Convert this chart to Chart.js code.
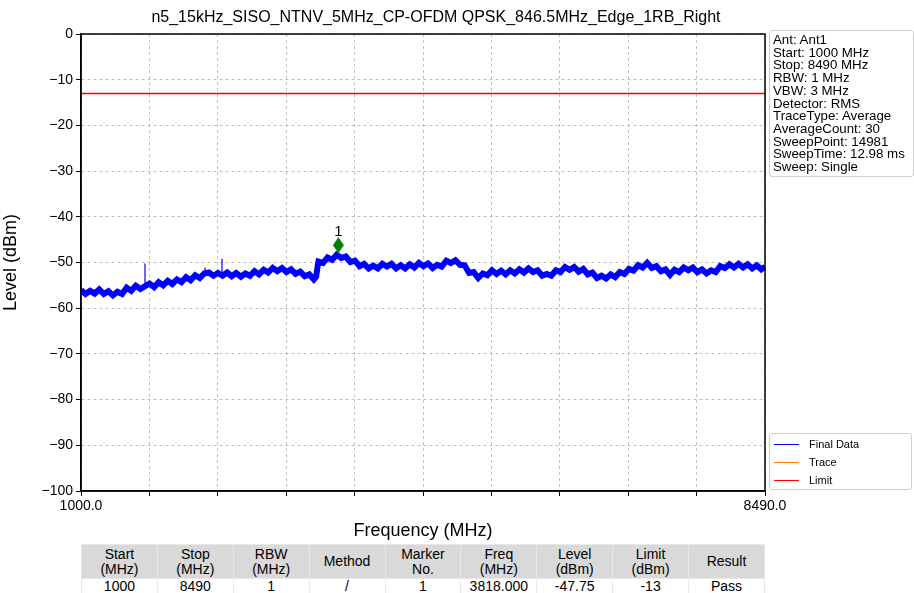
<!DOCTYPE html>
<html>
<head>
<meta charset="utf-8">
<script src="https://cdn.jsdelivr.net/npm/chart.js@4.4.1/dist/chart.umd.min.js"></script>
<style>
  body { margin: 0; background: #fff; font-family: "Liberation Sans", Arial, sans-serif; color: #000; }
  #wrap { position: relative; width: 914px; height: 593px; overflow: hidden; }
  #chart { position: absolute; left: 0; top: 0; }
  #title { position: absolute; top: 8px; left: 0; width: 872px; text-align: center; font-size: 16px; }
  #info { position: absolute; left: 769px; top: 30px; width: 137px; height: 141px; padding: 3px 3px 1px;
          border: 1px solid #cfcfcf; border-radius: 3px; font-size: 13.3px; line-height: 12.7px; white-space: nowrap; }
  #legend { position: absolute; left: 769px; top: 433px; width: 141px; height: 55px;
            border: 1px solid #cfcfcf; border-radius: 3px; font-size: 11px; }
  #legend div { height: 18px; line-height: 18px; position: relative; padding-left: 39px; }
  #legend div span { position: absolute; left: 4px; top: 9px; width: 25px; height: 0; border-top: 1.5px solid; }
  #legend div:first-child { margin-top: 1px; }
  table { position: absolute; left: 81px; top: 544px; width: 684px; border-collapse: collapse; table-layout: fixed;
          font-size: 14px; line-height: 15px; text-align: center; }
  th, td { border: 1px solid #e8e8e8; padding: 0; font-weight: normal; }
  th { background: #d9d9d9; height: 33px; }
  td { height: 14px; line-height: 14px; }
</style>
</head>
<body>
<div id="wrap">
  <canvas id="chart" width="914" height="542"></canvas>
  <div id="title"></div>
  <div id="info"></div>
  <div id="legend"></div>
  <table id="result"><thead><tr></tr></thead><tbody><tr></tr></tbody></table>
</div>
<script>
const chartTitle = "n5_15kHz_SISO_NTNV_5MHz_CP-OFDM QPSK_846.5MHz_Edge_1RB_Right"

// trace (MHz, dBm)
const freqMHz = [
  1000, 1050, 1100, 1150, 1200, 1250, 1300, 1350, 1400, 1450, 1500, 1550, 1600, 1650,
  1700, 1750, 1800, 1850, 1900, 1950, 2000, 2050, 2100, 2150, 2200, 2250, 2300,
  2350, 2400, 2450, 2500, 2550, 2600, 2650, 2700, 2750, 2800, 2850,
  2900, 2950, 3000, 3050, 3100, 3150, 3200, 3250, 3300, 3350, 3400, 3450, 3500, 3550, 3575,
  3590, 3600, 3650, 3700, 3750, 3800, 3850, 3900, 3950, 4000, 4050, 4100, 4150, 4200, 4250,
  4300, 4350, 4400, 4450, 4500, 4550, 4600, 4650, 4700, 4750, 4800, 4850, 4900, 4950, 5000,
  5050, 5100, 5150, 5200, 5250, 5300, 5350, 5400, 5450, 5500, 5550, 5600, 5650, 5700, 5750,
  5800, 5850, 5900, 5950, 6000, 6050, 6100, 6150, 6200, 6250, 6300, 6350, 6400, 6450, 6500,
  6550, 6600, 6650, 6700, 6750, 6800, 6850, 6900, 6950, 7000, 7050, 7100, 7150, 7200, 7250,
  7300, 7350, 7400, 7450, 7500, 7550, 7600, 7650, 7700, 7750, 7800, 7850, 7900, 7950, 8000,
  8050, 8100, 8150, 8200, 8250, 8300, 8350, 8400, 8450, 8490
]
const levelDbm = [
  -56.0, -56.9, -56.2, -56.8, -55.9, -56.9, -56.3, -57.2, -56.4, -56.9, -55.5, -56.2, -55.1, -55.8,
  -55.2, -54.6, -55.4, -54.3, -55.0, -54.0, -54.7, -53.7, -54.3, -53.2, -53.9, -52.8, -53.4,
  -52.4, -52.2, -52.9, -52.3, -52.9, -52.2, -53.0, -52.3, -53.1, -52.4, -52.9,
  -51.9, -52.6, -51.6, -52.2, -51.2, -51.9, -51.2, -52.1, -51.5, -52.5, -52.0, -53.0, -52.6, -53.7, -53.1,
  -51.0, -49.8, -50.1, -48.9, -49.4, -48.3, -49.0, -48.7, -49.9, -49.6, -50.8, -50.3, -51.3, -50.7, -51.3,
  -50.3, -50.9, -50.3, -51.3, -50.6, -51.3, -50.4, -51.1, -50.1, -50.8, -50.2, -51.2, -50.5, -50.9, -49.6,
  -50.1, -49.5, -50.5, -50.6, -52.3, -52.1, -53.4, -52.4, -52.8, -51.7, -52.5, -51.8, -52.6, -51.7, -52.4,
  -51.5, -52.2, -51.3, -52.1, -51.7, -52.9, -52.5, -52.9, -51.7, -52.1, -51.0, -51.6, -51.0, -52.0, -51.4,
  -52.6, -52.2, -53.4, -52.9, -53.5, -52.6, -53.2, -52.1, -52.5, -51.4, -51.8, -50.6, -51.1, -50.1, -51.2,
  -50.8, -51.9, -51.5, -52.7, -51.6, -52.1, -51.1, -51.7, -51.1, -52.1, -51.5, -52.4, -51.7, -52.1, -50.8,
  -51.2, -50.4, -51.1, -50.3, -51.1, -50.4, -51.3, -50.6, -51.5, -50.9
]

// narrow spurs on the trace (MHz, base dBm, peak dBm)
const spurFreq = [1701, 2358, 2544]
const spurBase = [-55.0, -52.5, -52.5]
const spurPeak = [-50.2, -51.1, -49.2]

const limitFreq = [1000, 8490]
const limitDbm = [-13, -13]

const markerFreq = [3818]
const markerLevel = [-46.2]
const markerNo = ["1"]

const xTickValues = [1000, 1749, 2498, 3247, 3996, 4745, 5494, 6243, 6992, 7741, 8490]
const xTickLabels = ["1000.0", "", "", "", "", "", "", "", "", "", "8490.0"]

const infoLines = [
  "Ant: Ant1", "Start: 1000 MHz", "Stop: 8490 MHz", "RBW: 1 MHz", "VBW: 3 MHz",
  "Detector: RMS", "TraceType: Average", "AverageCount: 30", "SweepPoint: 14981",
  "SweepTime: 12.98 ms", "Sweep: Single"
]

const tableHead = ["Start<br>(MHz)", "Stop<br>(MHz)", "RBW<br>(MHz)", "Method", "Marker<br>No.",
                   "Freq<br>(MHz)", "Level<br>(dBm)", "Limit<br>(dBm)", "Result"]
const tableRow = ["1000", "8490", "1", "/", "1", "3818.000", "-47.75", "-13", "Pass"]

const FONT = '"Liberation Sans", Arial, sans-serif'

document.getElementById('title').textContent = chartTitle
document.getElementById('info').innerHTML = infoLines.join('<br>')
document.querySelector('#result thead tr').innerHTML = tableHead.map(h => `<th>${h}</th>`).join('')
document.querySelector('#result tbody tr').innerHTML = tableRow.map(c => `<td>${c}</td>`).join('')

// green diamond like the matplotlib 'd' marker
const diamond = document.createElement('canvas')
diamond.width = 11
diamond.height = 16
const dctx = diamond.getContext('2d')
dctx.fillStyle = '#008000'
dctx.beginPath()
dctx.moveTo(5.5, 0)
dctx.lineTo(11, 8)
dctx.lineTo(5.5, 16)
dctx.lineTo(0, 8)
dctx.closePath()
dctx.fill()

const toXY = (xs, ys) => xs.map((x, i) => ({ x: x, y: ys[i] }))

// each spur is a vertical segment, separated by a gap
const spurData = []
spurFreq.forEach((f, i) => {
  spurData.push({ x: f, y: spurBase[i] }, { x: f, y: spurPeak[i] }, { x: f, y: null })
})

const framePlugin = {
  id: 'frame',
  afterDatasetsDraw(chart) {
    const { ctx, chartArea: a } = chart
    ctx.save()
    ctx.strokeStyle = '#000'
    ctx.lineWidth = 1.5
    ctx.strokeRect(a.left, a.top, a.right - a.left, a.bottom - a.top)

    // marker numbers above the diamonds
    const xs = chart.scales.x, ys = chart.scales.y
    ctx.fillStyle = '#000'
    ctx.font = '15px ' + FONT
    ctx.textAlign = 'center'
    ctx.textBaseline = 'bottom'
    markerFreq.forEach((f, i) => {
      ctx.fillText(markerNo[i], xs.getPixelForValue(f), ys.getPixelForValue(markerLevel[i]) - 6)
    })
    ctx.restore()
  }
}

const chart = new Chart(document.getElementById('chart'), {
  type: 'line',
  data: {
    datasets: [
      { label: 'Final Data', data: toXY(freqMHz, levelDbm), borderColor: '#0000ff', borderWidth: 6,
        pointRadius: 0, tension: 0, order: 3 },
      { label: 'Trace', data: [], borderColor: '#ff7f0e', borderWidth: 1.5, pointRadius: 0 },
      { label: 'Limit', data: toXY(limitFreq, limitDbm), borderColor: '#ff0000', borderWidth: 1.5,
        pointRadius: 0, order: 2 },
      { label: 'Spurs', data: spurData, borderColor: '#0000ff', borderWidth: 1.2, pointRadius: 0,
        spanGaps: false, order: 3, inLegend: false },
      { label: 'Marker', data: toXY(markerFreq, markerLevel), showLine: false, pointStyle: diamond,
        pointRadius: 6, order: 1, inLegend: false }
    ]
  },
  options: {
    responsive: false,
    animation: false,
    events: [],
    layout: { padding: { left: 0, right: 149, top: 34, bottom: 0 } },
    plugins: { legend: { display: false }, tooltip: { enabled: false } },
    scales: {
      x: {
        type: 'linear',
        min: 1000,
        max: 8490,
        afterFit: s => { s.height = 51 },
        afterBuildTicks: s => { s.ticks = xTickValues.map(v => ({ value: v })) },
        ticks: {
          autoSkip: false, maxRotation: 0, padding: 2, color: '#000',
          font: { size: 14, family: FONT },
          callback: (v, i) => xTickLabels[i]
        },
        grid: { color: '#b0b0b0', lineWidth: 0.8, tickLength: 5, tickColor: '#000', tickWidth: 1 },
        border: { color: '#000', width: 1.5, dash: [3, 3] },
        title: { display: true, text: 'Frequency (MHz)', color: '#000', font: { size: 18, family: FONT },
                 padding: { top: 0, bottom: 0 } }
      },
      y: {
        min: -100,
        max: 0,
        afterFit: s => { s.width = 81 },
        ticks: {
          stepSize: 10, padding: 3, color: '#000', font: { size: 14, family: FONT },
          callback: v => String(v).replace('-', '\u2212')
        },
        grid: { color: '#b0b0b0', lineWidth: 0.8, tickLength: 5, tickColor: '#000', tickWidth: 1 },
        border: { color: '#000', width: 1.5, dash: [3, 3] },
        title: { display: true, text: 'Level (dBm)', color: '#000', font: { size: 18, family: FONT },
                 padding: { top: 0, bottom: 0 } }
      }
    }
  },
  plugins: [framePlugin]
})

// legend box built from the chart's own datasets
document.getElementById('legend').innerHTML = chart.data.datasets
  .filter(d => d.inLegend !== false)
  .map(d => `<div><span style="border-color:${d.borderColor}"></span>${d.label}</div>`)
  .join('')
</script>
</body>
</html>
